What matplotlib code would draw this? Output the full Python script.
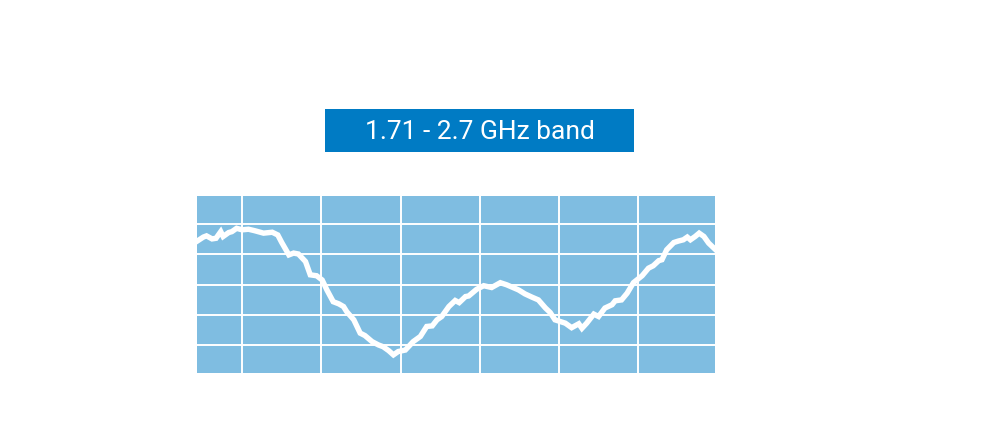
import matplotlib
matplotlib.use("Agg")
import matplotlib.pyplot as plt
from matplotlib.patches import Rectangle

# Data (grid units: vertical grid lines at x=0..5, horizontal at y=1..5)
x_vals = [-0.56, -0.49, -0.45, -0.38, -0.33, -0.27, -0.24, -0.17, -0.13, -0.07,
          0.00, 0.08, 0.16, 0.27, 0.38, 0.45, 0.50, 0.59, 0.65, 0.71,
          0.80, 0.86, 0.94, 1.01, 1.07, 1.15, 1.22, 1.28, 1.32, 1.41,
          1.49, 1.55, 1.64, 1.72, 1.78, 1.85, 1.91, 1.97, 2.06, 2.16,
          2.25, 2.33, 2.40, 2.46, 2.52, 2.61, 2.69, 2.74, 2.82, 2.86,
          2.96, 3.05, 3.15, 3.26, 3.34, 3.49, 3.57, 3.66, 3.74, 3.83,
          3.89, 3.95, 4.08, 4.16, 4.25, 4.29, 4.35, 4.44, 4.50, 4.58,
          4.67, 4.71, 4.79, 4.86, 4.94, 5.05, 5.13, 5.19, 5.26, 5.30,
          5.36, 5.45, 5.51, 5.57, 5.62, 5.66, 5.72, 5.77, 5.83, 5.89, 5.97]
y_vals = [4.45, 4.57, 4.61, 4.51, 4.53, 4.75, 4.59, 4.72, 4.75, 4.86,
          4.81, 4.83, 4.78, 4.70, 4.73, 4.64, 4.39, 3.98, 4.04, 4.01,
          3.76, 3.32, 3.29, 3.15, 2.82, 2.43, 2.36, 2.27, 2.10, 1.83,
          1.39, 1.31, 1.11, 1.00, 0.94, 0.81, 0.67, 0.78, 0.83, 1.11,
          1.28, 1.61, 1.63, 1.83, 1.94, 2.27, 2.47, 2.40, 2.60, 2.62,
          2.84, 2.96, 2.90, 3.06, 2.99, 2.82, 2.69, 2.58, 2.49, 2.22,
          2.07, 1.83, 1.72, 1.57, 1.70, 1.55, 1.72, 2.02, 1.94, 2.22,
          2.33, 2.46, 2.49, 2.71, 3.06, 3.29, 3.54, 3.62, 3.79, 3.82,
          4.15, 4.39, 4.44, 4.48, 4.57, 4.48, 4.59, 4.70, 4.59, 4.37, 4.17]
x_grid = [0, 1, 2, 3, 4, 5]
y_grid = [1, 2, 3, 4, 5]
title = "1.71 - 2.7 GHz band"

fig = plt.figure(figsize=(9.99, 4.32), dpi=100)
fig.patch.set_facecolor("white")

ax = fig.add_axes([197/999, 59/432, 518/999, 177/432])
ax.set_facecolor("#7fbde1")
ax.set_xlim(-0.57, 5.97)
ax.set_ylim(0.07, 5.93)
for gx in x_grid:
    ax.axvline(gx, color="white", lw=1.4, zorder=1)
for gy in y_grid:
    ax.axhline(gy, color="white", lw=1.4, zorder=1)
ax.plot(x_vals, y_vals, color="white", lw=3.9, solid_joinstyle="miter", zorder=2)
ax.set_xticks([])
ax.set_yticks([])
for s in ax.spines.values():
    s.set_visible(False)

# Title box
bx0, by0, bw, bh = 325/999, (432-151.5)/432, 309/999, 42.5/432
fig.patches.append(Rectangle((bx0, by0), bw, bh, transform=fig.transFigure,
                             facecolor="#007bc4", edgecolor="none", zorder=0))
fig.text(bx0 + bw/2, (432-138.7)/432, title, color="white", fontsize=19,
         family=["Roboto", "DejaVu Sans"], ha="center", va="baseline")

fig.savefig("out.png", dpi=100, facecolor="white")
